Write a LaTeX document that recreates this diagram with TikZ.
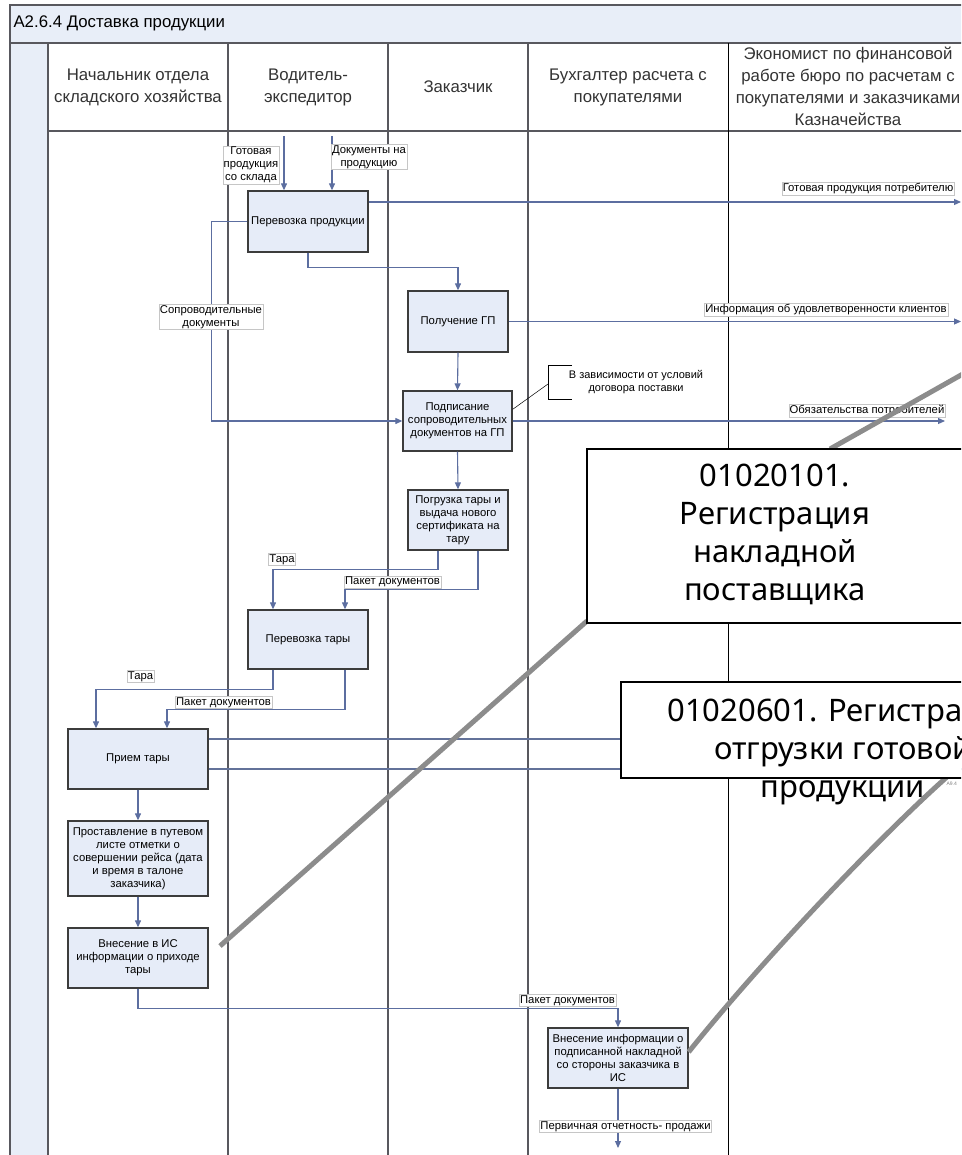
\documentclass[tikz,border=0pt]{standalone}
\usepackage{fontspec}
\setmainfont{Liberation Sans}
\newfontfamily\callfont{Noto Sans}
\usetikzlibrary{arrows.meta,calc}
\definecolor{procfill}{RGB}{230,236,248}
\definecolor{bandfill}{RGB}{232,238,248}
\definecolor{flowblue}{RGB}{92,110,160}
\definecolor{lanegray}{RGB}{88,88,94}
\definecolor{boxgray}{RGB}{60,60,60}
\tikzset{
 lane/.style={draw=lanegray,line width=1.4pt},
 head/.style={align=center,font=\fontsize{16.8}{22}\selectfont,text=black!80},
 proc/.style={draw=boxgray,line width=1.3pt,fill=procfill,align=center,inner sep=1pt,
   font=\fontsize{11.3}{13}\selectfont},
 lbl/.style={draw=gray!45,fill=white,line width=.4pt,align=center,inner sep=1pt,
   font=\fontsize{11.3}{13}\selectfont},
 flow/.style={draw=flowblue,line width=1.1pt,-{Triangle[length=7pt,width=6pt]}},
 plainflow/.style={draw=flowblue!80!gray,line width=1.1pt},
 leader/.style={draw=gray!90,line width=5pt},
 callout/.style={draw=black,line width=1.8pt,fill=white},
 calltext/.style={align=center,font=\callfont\fontsize{31}{38}\selectfont}
}
\begin{document}
\begin{tikzpicture}[x=1pt,y=-1pt]
\clip (0,0) rectangle (961,1155);
% frame and lanes
\fill[bandfill] (10,5) rectangle (1000,43);
\fill[bandfill] (10,43) rectangle (48,1160);
\draw[lane] (10,1160) -- (10,5) -- (1000,5);
\draw[lane] (10,43) -- (1000,43);
\draw[lane] (48,131) -- (1000,131);
\foreach \x in {48,228,388,528}
 \draw[lane] (\x,43) -- (\x,1160);
\draw[black,line width=.9pt] (728,43) -- (728,1160);
\node[anchor=west,font=\fontsize{16.8}{19}\selectfont] (title) at (10,23) {А2.6.4 Доставка продукции};
\node[head] (h1) at (138,87) {Начальник отдела\\складского хозяйства};
\node[head] (h2) at (308,87) {Водитель-\\экспедитор};
\node[head] (h3) at (458,87) {Заказчик};
\node[head] (h4) at (628,87) {Бухгалтер расчета с\\покупателями};
\node[head] (h5) at (848,86) {Экономист по финансовой\\работе бюро по расчетам с\\покупателями и заказчиками\\Казначейства};

% functions
\node[proc,minimum width=120pt,minimum height=61pt] (p1) at (308,221.5) {Перевозка продукции};
\node[proc,minimum width=100pt,minimum height=61pt] (p2) at (458,321.5) {Получение ГП};
\node[proc,minimum width=109pt,minimum height=60pt] (p3) at (457.5,421) {Подписание\\сопроводительных\\документов на ГП};
\node[proc,minimum width=100pt,minimum height=60pt] (p4) at (458,520) {Погрузка тары и\\выдача нового\\сертификата на\\тару};
\node[proc,minimum width=120pt,minimum height=59pt] (p5) at (308,639.5) {Перевозка тары};
\node[proc,minimum width=140pt,minimum height=60pt] (p6) at (138,759) {Прием тары};
\node[proc,minimum width=140pt,minimum height=75pt] (p7) at (138,858.5) {Проставление в путевом\\листе отметки о\\совершении рейса (дата\\и время в талоне\\заказчика)};
\node[proc,minimum width=140pt,minimum height=60pt] (p8) at (138,958) {Внесение в ИС\\информации о приходе\\тары};
\node[proc,minimum width=140pt,minimum height=60pt] (p9) at (618,1058) {Внесение информации о\\подписанной накладной\\со стороны заказчика в\\ИС};

% free ends
\coordinate (in1) at (284,136);
\coordinate (in2) at (332,136);
\coordinate (out1) at (961,202);
\coordinate (out2) at (961,321.5);
\coordinate (out3) at (945,421);
\coordinate (out4) at (990,739);
\coordinate (out5) at (990,769);
\coordinate (out6) at (618,1148);

% flows
\draw[flow] (in1) -- (in1 |- p1.north);
\draw[flow] (in2) -- (in2 |- p1.north);
\draw[flow] (out1 -| p1.east) -- (out1);
\draw[flow] (p1.west) -- ++(-36,0) |- (p3.west);
\draw[flow] (p1.south) -- ++(0,15) -| (p2.north);
\draw[flow] (p2.east) -- (out2);
\draw[flow] (p2.south) -- (p3.north);
\draw[flow] (p3.east) -- (out3);
\draw[flow] (p3.south) -- (p4.north);
\draw[flow] ($(p4.south)+(-20,0)$) -- ++(0,19) -| ($(p5.north)+(-35,0)$);
\draw[flow] ($(p4.south)+(20,0)$) -- ++(0,39) -| ($(p5.north)+(37,0)$);
\draw[flow] ($(p5.south)+(-35,0)$) -- ++(0,20) -| ($(p6.north)+(-42,0)$);
\draw[flow] ($(p5.south)+(37,0)$) -- ++(0,40) -| ($(p6.north)+(29,0)$);
\draw[plainflow] (out4 -| p6.east) -- (out4);
\draw[plainflow] (out5 -| p6.east) -- (out5);
\draw[flow] (p6.south) -- (p7.north);
\draw[flow] (p7.south) -- (p8.north);
\draw[flow] (p8.south) -- ++(0,20) -| (p9.north);
\draw[flow] (p9.south) -- (out6);

% labels
\node[lbl] (l1) at (251,165) {Готовая\\продукция\\со склада};
\node[lbl] (l2) at (369,157) {Документы на\\продукцию};
\node[lbl] (l3) at (868,189) {Готовая продукция потребителю};
\node[lbl] (l4) at (211,317) {Сопроводительные\\документы};
\node[lbl] (l5) at (826,309.5) {Информация об удовлетворенности клиентов};
\node[lbl] (l6) at (867,410.5) {Обязательства потребителей};
\node[lbl] (l7) at (282,559.5) {Тара};
\node[lbl] (l8) at (392.5,582) {Пакет документов};
\node[lbl] (l9) at (140.5,676.5) {Тара};
\node[lbl] (l10) at (223.5,702.5) {Пакет документов};
\node[lbl] (l11) at (567.5,1000.5) {Пакет документов};
\node[lbl] (l12) at (625.5,1126.5) {Первичная отчетность- продажи};

% note
\coordinate (brk) at (548,384);
\draw[black,line width=.6pt] (572,365) -- (548,365) -- (548,399) -- (572,399);
\draw[black,line width=.5pt] ($(p3.north east)+(0,19)$) -- (brk);
\node[align=center,font=\fontsize{11}{13}\selectfont] (note) at (636,382) {В зависимости от условий\\договора поставки};

% callouts
\coordinate (c1a) at (220,946);
\coordinate (c1b) at (1000,353);
\draw[leader] (c1a) -- (587,621);
\draw[leader] (830,449) -- (c1b);
\draw[leader] ($(p9.east)+(0,-6)$) .. controls (758,965) and (878,838) .. (948,776);
\node[callout,minimum width=376pt,minimum height=174pt] (c1) at (775,536) {};
\node[calltext] (c1t) at (775,534) {01020101.\\Регистрация\\накладной\\поставщика};
\node[callout,minimum width=444pt,minimum height=96pt] (c2) at (843,730) {};
\node[calltext] (c2t) at (843,752) {01020601. Регистрация\\отгрузки готовой\\продукции};
\node[anchor=west,font=\fontsize{5}{6}\selectfont,text=gray] (a94) at (943,784) {А9.4};
\end{tikzpicture}
\end{document}
